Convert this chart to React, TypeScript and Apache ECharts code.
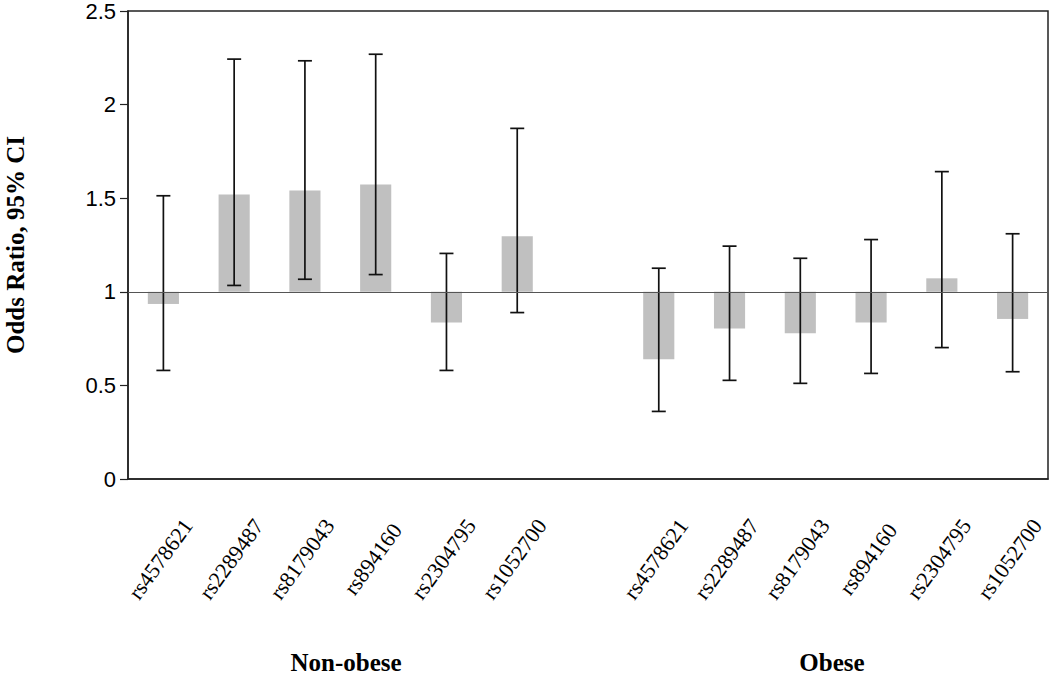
import React, { useEffect, useRef } from "react";
import * as echarts from "echarts";

const categories = [
  "rs4578621", "rs2289487", "rs8179043", "rs894160", "rs2304795", "rs1052700",
  "",
  "rs4578621", "rs2289487", "rs8179043", "rs894160", "rs2304795", "rs1052700",
];
const oddsRatio = [0.935, 1.52, 1.541, 1.573, 0.836, 1.297, null, 0.64, 0.804, 0.778, 0.836, 1.072, 0.855];
const ciLower = [0.58, 1.034, 1.067, 1.092, 0.58, 0.889, null, 0.361, 0.527, 0.511, 0.564, 0.702, 0.573];
const ciUpper = [1.513, 2.243, 2.234, 2.269, 1.205, 1.873, null, 1.126, 1.244, 1.179, 1.279, 1.642, 1.31];
const groupLabels = ["Non-obese", "Obese"];
const yMin = 0;
const yMax = 2.5;
const yStep = 0.5;
const referenceValue = 1;

export default function App() {
  const ref = useRef<HTMLDivElement>(null);
  useEffect(() => {
    document.body.style.margin = "0";
    if (!ref.current) return;
    const chart = echarts.init(ref.current, null, { renderer: "svg" });
    const items: any[] = [];
    oddsRatio.forEach((v, i) => {
      if (v != null) items.push([i, v, ciLower[i], ciUpper[i]]);
    });
    chart.setOption({
      animation: false,
      backgroundColor: "#fff",
      grid: {
        left: 128,
        right: 2,
        top: 11,
        bottom: 198,
        outerBoundsMode: "none",
        containLabel: false,
        show: true,
        borderColor: "#222",
        borderWidth: 1.5,
        backgroundColor: "transparent",
      },
      xAxis: {
        type: "category",
        data: categories,
        boundaryGap: true,
        axisLine: { show: true, lineStyle: { color: "#222", width: 1.5 } },
        axisTick: { show: false },
        axisLabel: {
          interval: 0,
          rotate: 54,
          align: "center",
          verticalAlign: "middle",
          margin: 76,
          padding: [0, 10, 0, 0],
          fontFamily: "Liberation Serif",
          fontSize: 22,
          color: "#000",
        },
        splitLine: { show: false },
      },
      yAxis: {
        type: "value",
        min: yMin,
        max: yMax,
        interval: yStep,
        name: "Odds Ratio, 95% CI",
        nameLocation: "middle",
        nameRotate: 90,
        nameGap: 100,
        nameTextStyle: {
          fontFamily: "Liberation Serif",
          fontWeight: "bold",
          fontSize: 25,
          color: "#000",
        },
        axisLine: { show: true, lineStyle: { color: "#222", width: 1.5 } },
        axisTick: { show: true, inside: false, length: 8, lineStyle: { color: "#222", width: 1.2 } },
        axisLabel: {
          margin: 12,
          fontFamily: "Liberation Sans",
          fontSize: 22,
          color: "#000",
        },
        splitLine: { show: false },
      },
      graphic: [
        {
          type: "text",
          x: 346,
          y: 662,
          style: {
            text: groupLabels[0],
            fontFamily: "Liberation Serif",
            fontWeight: "bold",
            fontSize: 25,
            fill: "#000",
            align: "center",
            verticalAlign: "middle",
          },
        },
        {
          type: "text",
          x: 832,
          y: 662,
          style: {
            text: groupLabels[1],
            fontFamily: "Liberation Serif",
            fontWeight: "bold",
            fontSize: 25,
            fill: "#000",
            align: "center",
            verticalAlign: "middle",
          },
        },
      ],
      series: [
        {
          type: "custom",
          data: items,
          encode: { x: 0, y: [1, 2, 3] },
          renderItem: (params: any, api: any) => {
            const i = api.value(0);
            const v = api.value(1);
            const lo = api.value(2);
            const hi = api.value(3);
            const base = api.coord([i, referenceValue]);
            const top = api.coord([i, v]);
            const pLo = api.coord([i, lo]);
            const pHi = api.coord([i, hi]);
            const bw = api.size([1, 0])[0] * 0.44;
            const cap = 7;
            const x = base[0];
            const stroke = { stroke: "#111", lineWidth: 1.7 };
            return {
              type: "group",
              children: [
                {
                  type: "rect",
                  shape: {
                    x: x - bw / 2,
                    y: Math.min(base[1], top[1]),
                    width: bw,
                    height: Math.abs(top[1] - base[1]),
                  },
                  style: { fill: "#c0c0c0" },
                },
                { type: "line", shape: { x1: x, y1: pLo[1], x2: x, y2: pHi[1] }, style: stroke },
                { type: "line", shape: { x1: x - cap, y1: pLo[1], x2: x + cap, y2: pLo[1] }, style: stroke },
                { type: "line", shape: { x1: x - cap, y1: pHi[1], x2: x + cap, y2: pHi[1] }, style: stroke },
              ],
            };
          },
          markLine: {
            silent: true,
            symbol: "none",
            label: { show: false },
            lineStyle: { color: "#555", width: 1, type: "solid" },
            data: [{ yAxis: referenceValue }],
          },
          z: 2,
        },
      ],
    });
    return () => chart.dispose();
  }, []);
  return <div ref={ref} style={{ width: 1050, height: 677 }} />;
}
